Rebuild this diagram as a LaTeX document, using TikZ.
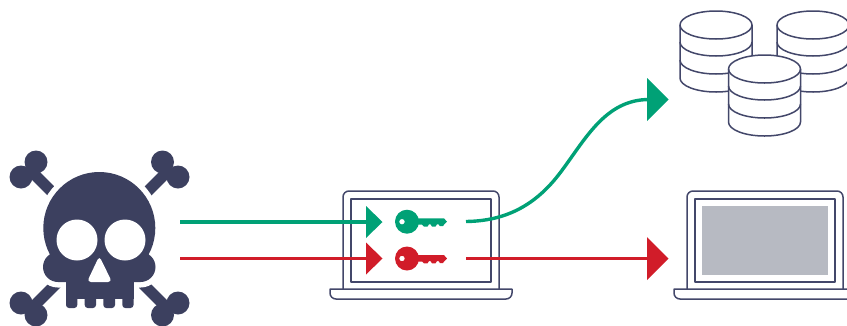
\documentclass[tikz,border=0pt]{standalone}
\definecolor{ink}{HTML}{3C405F}
\definecolor{line}{HTML}{43476A}
\definecolor{grn}{HTML}{00A176}
\definecolor{rd}{HTML}{D11C29}
\definecolor{scr}{HTML}{B7BAC2}
\tikzset{
  outline/.style={draw=line,line width=1.5pt,line join=round},
  flow/.style={line width=3.4pt},
  bone/.style={ink,line width=11pt},
  halo/.style={white,line width=11pt},
}
\newcommand{\bonecap}[2]{\fill[ink] (#1) circle (11.5); \fill[ink] (#2) circle (11.5);}
\newcommand{\cranium}{(99.3,228) circle (56)}
\newcommand{\cheeks}{(58,252) -- (140.5,252) arc (-90:90:15) -- (58,282) arc (90:270:15) -- cycle}
\newcommand{\jaw}{(66,262) rectangle (133.5,299)}
\newcommand{\laptop}[1]{%
  \draw[outline] (#1,289) -- (#1,197) arc (180:270:6) -- ({#1+150},191) arc (270:360:6) -- ({#1+156},289);
  \draw[outline] ({#1+8},199) rectangle ({#1+148},282);
  \draw[outline] ({#1-13},289) -- ({#1+169},289) -- ({#1+169},293) arc (0:90:6) -- ({#1-7},299) arc (90:180:6) -- cycle;
}
\newcommand{\cyl}[2]{%
  \begin{scope}[shift={(#1,#2)}]
  \draw[outline,fill=white] (-36,0) -- (-36,53) arc (180:0:36 and 14) -- (36,0) arc (0:-180:36 and 14) -- cycle;
  \draw[outline] (-36,0) arc (180:0:36 and 14);
  \draw[outline] (-36,17) arc (180:0:36 and 14);
  \draw[outline] (-36,35) arc (180:0:36 and 14);
  \end{scope}
}
\newcommand{\keyshape}[2]{%
  \begin{scope}[shift={(407,#1)}]
  \fill[#2,even odd rule] (0,0) circle (12) (-5,0) circle (2.8);
  \fill[#2] (8,-3.4) -- (37,-3.4) -- (40,0) -- (37,3) -- (36,4.5) -- (33,4.5) -- (31.5,2.6) -- (30,2.6) -- (28.5,4.8) -- (25,4.8) -- (23.5,2.6) -- (22,2.6) -- (20.5,4.8) -- (17,4.8) -- (15,3) -- (8,3) -- cycle;
  \end{scope}
}
\begin{document}
\begin{tikzpicture}[x=1pt,y=-1pt]
\useasboundingbox (0,0) rectangle (847,325);
\begin{scope}
\clip (0,0) rectangle (847,325);
% bones
\draw[bone] (170,169) -- (126,213);
\draw[bone] (29,169) -- (73,213);
\draw[bone] (29,311) -- (73,267);
\draw[bone] (170,311) -- (126,267);
\bonecap{36,162}{21,177}
\bonecap{162.5,162}{178,177}
\bonecap{21,303}{36,315}
\bonecap{178,303}{162.5,315}
% skull
\draw[halo] \cranium;
\draw[halo] \cheeks;
\draw[halo] \jaw;
\fill[ink] \cranium;
\fill[ink] \cheeks;
\fill[ink] \jaw;
\fill[ink,rounded corners=3pt] (66,290) -- (77.3,290) -- (77.3,308) -- (66,308) -- cycle;
\fill[ink,rounded corners=3pt] (84.7,290) -- (96,290) -- (96,308) -- (84.7,308) -- cycle;
\fill[ink,rounded corners=3pt] (103.3,290) -- (115,290) -- (115,308) -- (103.3,308) -- cycle;
\fill[ink,rounded corners=3pt] (122.3,290) -- (133.5,290) -- (133.5,308) -- (122.3,308) -- cycle;
\fill[white] (77,240) circle (20.5);
\fill[white] (125,240) circle (20.5);
\fill[white,rounded corners=4pt] (99.3,256) -- (112,282) -- (87,282) -- cycle;
% laptops
\laptop{343}
\laptop{687}
\fill[scr] (702,206) rectangle (828,275);
% databases
\cyl{716}{25}
\cyl{813}{25}
\cyl{764.5}{69}
% keys
\keyshape{221.7}{grn}
\keyshape{258.5}{rd}
% connectors
\coordinate (s1) at (180,222);
\coordinate (s2) at (180,258.5);
\coordinate (t1) at (368,222);
\coordinate (t2) at (368,258.5);
\coordinate (u1) at (466,221.5);
\coordinate (u2) at (466,258.5);
\coordinate (m1) at (560,173);
\coordinate (v1) at (649,99.5);
\coordinate (v2) at (649,258.5);
\draw[grn,flow] (s1) -- (t1);
\draw[rd,flow] (s2) -- (t2);
\draw[grn,flow] (u1) .. controls (505,221) and (535,206) .. (m1) .. controls (585,140) and (605,99.5) .. (v1);
\draw[rd,flow] (u2) -- (v2);
\fill[grn] (366,206) -- (382.5,222) -- (366,238) -- cycle;
\fill[rd] (366,242.5) -- (382.5,258.5) -- (366,274.5) -- cycle;
\fill[grn] (647,78) -- (668.5,99.5) -- (647,121) -- cycle;
\fill[rd] (647,237) -- (668.5,258.5) -- (647,280) -- cycle;
\end{scope}
\end{tikzpicture}
\end{document}
